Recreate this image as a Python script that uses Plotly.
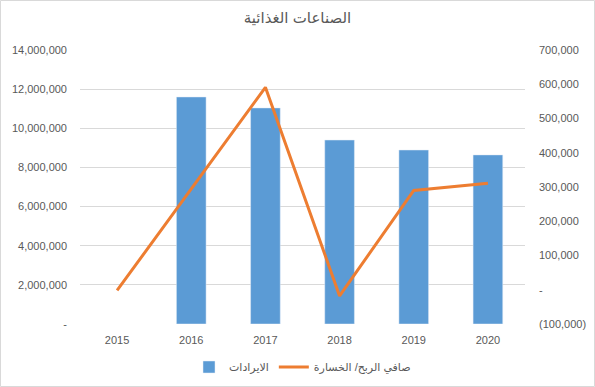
import plotly.graph_objects as go

years = ["2015", "2016", "2017", "2018", "2019", "2020"]
revenue = [None, 11600000, 11040000, 9400000, 8890000, 8640000]
net_profit = [-2000, 295000, 591000, -18000, 290000, 311000]

left_ticks = [0, 2000000, 4000000, 6000000, 8000000, 10000000, 12000000, 14000000]
left_labels = ["-", "2,000,000", "4,000,000", "6,000,000", "8,000,000", "10,000,000", "12,000,000", "14,000,000"]
right_ticks = [-100000, 0, 100000, 200000, 300000, 400000, 500000, 600000, 700000]
right_labels = ["(100,000)", "-", "100,000", "200,000", "300,000", "400,000", "500,000", "600,000", "700,000"]

title_text = "الصناعات الغذائية"
bar_name = "الايرادات"
line_name = "صافي الربح/ الخسارة"

W, H = 595, 387
ml, mr, mt, mb = 80, 70, 50, 63
pw, ph = W - ml - mr, H - mt - mb

font_family = "Liberation Sans, DejaVu Sans, sans-serif"
grey = "#595959"

fig = go.Figure()
fig.add_trace(go.Bar(x=years, y=revenue, name=bar_name, marker_color="#5B9BD5",
                     width=0.4, yaxis="y"))
fig.add_trace(go.Scatter(x=years, y=net_profit, name=line_name, mode="lines",
                         line=dict(color="#ED7D31", width=3), yaxis="y2"))

fig.update_layout(
    width=W, height=H,
    margin=dict(l=ml, r=mr, t=mt, b=mb, autoexpand=False),
    paper_bgcolor="white", plot_bgcolor="white",
    font=dict(family=font_family, size=11, color=grey),
    title=dict(text=title_text, x=0.5, xanchor="center", y=1 - 18 / H, yanchor="middle",
               font=dict(size=15, color=grey, family=font_family)),
    showlegend=True,
    legend=dict(orientation="h", x=0.5, xanchor="center", y=-(367 - (H - mb)) / ph,
                yanchor="middle", font=dict(size=11, color=grey), traceorder="normal"),
    xaxis=dict(type="category", showgrid=False, zeroline=False, showline=False,
               ticks="", tickfont=dict(size=11, color=grey), ticklabelstandoff=8),
    yaxis=dict(range=[0, 14000000], tickvals=left_ticks, ticktext=left_labels,
               showgrid=True, gridcolor="#d9d9d9", gridwidth=1, zeroline=False,
               showline=False, ticks="", tickfont=dict(size=11, color=grey),
               ticklabelstandoff=12),
    yaxis2=dict(range=[-100000, 700000], tickvals=right_ticks, ticktext=right_labels,
                overlaying="y", side="right", showgrid=False, zeroline=False,
                showline=False, ticks="", tickfont=dict(size=11, color=grey),
                ticklabelstandoff=13),
    shapes=[dict(type="rect", xref="paper", yref="paper",
                 x0=-(ml - 0.5) / pw, x1=1 + (mr - 0.5) / pw,
                 y0=-(mb - 0.5) / ph, y1=1 + (mt - 0.5) / ph,
                 line=dict(color="#d9d9d9", width=1), fillcolor="rgba(0,0,0,0)", layer="below")],
)

fig.write_html("out.html", config={"displayModeBar": False},
               post_script="document.body.style.margin='0';document.body.style.overflow='hidden';")
